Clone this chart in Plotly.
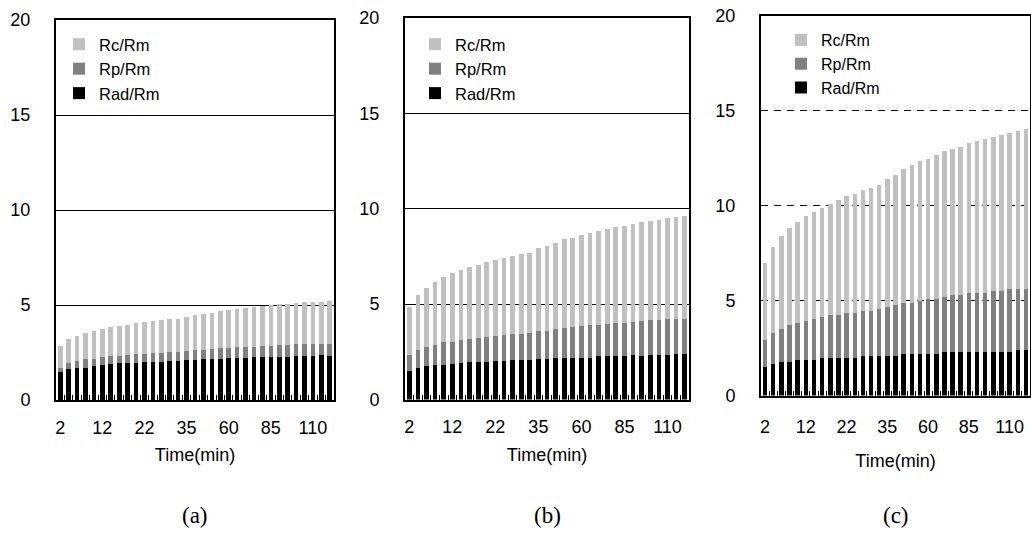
import plotly.graph_objects as go

# Sampling times (min) shared by the three runs
times = [2, 4, 6, 8, 10, 12, 14, 16, 18, 20, 22, 24, 26, 28, 30, 35, 40, 45, 50,
         55, 60, 65, 70, 75, 80, 85, 90, 95, 100, 105, 110, 115, 120]
label_every = 5

# Run (a): stacked components
rad_a = [1.45, 1.61, 1.71, 1.71, 1.77, 1.82, 1.87, 1.93, 1.93, 1.93, 1.98, 1.98, 1.98,
         2.03, 2.03, 2.08, 2.08, 2.14, 2.14, 2.14, 2.19, 2.19, 2.19, 2.24, 2.24, 2.24,
         2.24, 2.24, 2.30, 2.30, 2.30, 2.35, 2.30]
rp_a = [0.26, 0.32, 0.32, 0.43, 0.37, 0.42, 0.43, 0.37, 0.42, 0.47, 0.42, 0.48, 0.48,
        0.48, 0.48, 0.48, 0.53, 0.47, 0.53, 0.58, 0.53, 0.58, 0.58, 0.53, 0.59, 0.59,
        0.64, 0.64, 0.63, 0.63, 0.63, 0.58, 0.63]
rc_a = [1.12, 1.27, 1.33, 1.38, 1.48, 1.49, 1.53, 1.59, 1.59, 1.65, 1.70, 1.69, 1.74,
        1.75, 1.75, 1.80, 1.86, 1.91, 1.91, 1.96, 2.01, 2.02, 2.07, 2.12, 2.12, 2.17,
        2.17, 2.17, 2.18, 2.23, 2.23, 2.23, 2.28]

# Run (b)
rad_b = [1.48, 1.63, 1.74, 1.79, 1.79, 1.84, 1.89, 1.94, 1.94, 1.94, 2.00, 2.00, 2.05,
         2.05, 2.05, 2.10, 2.10, 2.15, 2.15, 2.15, 2.20, 2.20, 2.26, 2.26, 2.26, 2.26,
         2.31, 2.26, 2.31, 2.31, 2.31, 2.36, 2.36]
rp_b = [0.83, 0.94, 0.99, 1.09, 1.20, 1.20, 1.25, 1.25, 1.31, 1.36, 1.35, 1.40, 1.40,
        1.40, 1.42, 1.48, 1.51, 1.57, 1.62, 1.67, 1.67, 1.72, 1.66, 1.72, 1.77, 1.77,
        1.77, 1.87, 1.87, 1.87, 1.93, 1.88, 1.88]
rc_b = [2.55, 2.92, 3.12, 3.28, 3.44, 3.58, 3.64, 3.74, 3.79, 3.90, 3.95, 4.00, 4.06,
        4.16, 4.20, 4.34, 4.46, 4.51, 4.62, 4.67, 4.78, 4.83, 4.93, 4.98, 5.03, 5.08,
        5.14, 5.19, 5.20, 5.25, 5.29, 5.34, 5.39]

# Run (c)
rad_c = [1.48, 1.67, 1.78, 1.78, 1.89, 1.89, 1.89, 1.99, 1.99, 1.99, 1.99, 1.99, 2.10,
         2.10, 2.10, 2.10, 2.10, 2.21, 2.21, 2.21, 2.21, 2.21, 2.31, 2.31, 2.31, 2.31,
         2.31, 2.31, 2.31, 2.31, 2.31, 2.42, 2.42]
rp_c = [1.47, 1.60, 1.71, 1.92, 1.92, 2.02, 2.13, 2.14, 2.24, 2.24, 2.35, 2.35, 2.35,
        2.35, 2.46, 2.56, 2.67, 2.67, 2.67, 2.77, 2.88, 2.88, 2.89, 2.99, 2.99, 3.10,
        3.10, 3.10, 3.21, 3.21, 3.31, 3.20, 3.20]
rc_c = [4.02, 4.53, 4.94, 5.15, 5.35, 5.56, 5.66, 5.76, 5.88, 6.09, 6.19, 6.30, 6.40,
        6.51, 6.51, 6.73, 6.83, 7.04, 7.26, 7.37, 7.37, 7.58, 7.68, 7.69, 7.80, 7.90,
        8.01, 8.11, 8.11, 8.22, 8.22, 8.33, 8.44]

series_names = ["Rad/Rm", "Rp/Rm", "Rc/Rm"]
series_colors = ["#000000", "#808080", "#C0C0C0"]
panel_captions = ["(a)", "(b)", "(c)"]

W, H = 1031, 554
SANS = "Liberation Sans, Arial, sans-serif"
SERIF = "Liberation Serif, Times New Roman, serif"

# Pixel frame of each panel: left, right, y of 0, y of 20
frames = [(56, 334, 400, 20), (405, 689, 399.5, 18), (761, 1030, 395.5, 16)]
grid_dash = ["solid", "solid", "7px,6px"]
legend_ids = ["legend", "legend2", "legend3"]
legend_pos = [(59, 27), (415, 27), (781, 23)]
legend_font = [16.5, 16.5, 16]
xlabel_standoff = [10, 10, 14]
xtitle_standoff = [12, 12, 18]

runs = [(rad_a, rp_a, rc_a), (rad_b, rp_b, rc_b), (rad_c, rp_c, rc_c)]
cats = [str(t) for t in times]
tick_text = [c if i % label_every == 0 else "" for i, c in enumerate(cats)]

fig = go.Figure()
layout = dict(
    width=W, height=H,
    margin=dict(l=0, r=0, t=0, b=0, autoexpand=False),
    paper_bgcolor="white", plot_bgcolor="white",
    barmode="stack", bargap=0.45,
    font=dict(family=SANS, size=18, color="black"),
    annotations=[],
)

for p, (run, (xl, xr, y0, y20)) in enumerate(zip(runs, frames)):
    sfx = "" if p == 0 else str(p + 1)
    for name, color, vals in zip(series_names, series_colors, run):
        fig.add_trace(go.Bar(
            x=cats, y=vals, name=name,
            marker=dict(color=color, line=dict(width=0)),
            xaxis="x" + sfx, yaxis="y" + sfx,
            legend=legend_ids[p], showlegend=True,
        ))
    layout["xaxis" + sfx] = dict(
        domain=[xl / W, xr / W], anchor="y" + sfx,
        type="category", tickmode="array", tickvals=cats, ticktext=tick_text,
        tickangle=0, automargin=False,
        tickson="boundaries", ticks="inside", ticklen=5, tickwidth=1, tickcolor="black",
        showline=True, linewidth=2, linecolor="black", mirror=True,
        showgrid=False, ticklabelstandoff=xlabel_standoff[p],
        tickfont=dict(size=18),
        title=dict(text="Time(min)", font=dict(size=18), standoff=xtitle_standoff[p]),
    )
    layout["yaxis" + sfx] = dict(
        domain=[1 - y0 / H, 1 - y20 / H], anchor="x" + sfx,
        range=[0, 20], tickmode="linear", tick0=0, dtick=5,
        showline=True, linewidth=2, linecolor="black", mirror=True,
        showgrid=True, gridcolor="black", gridwidth=1.3, griddash=grid_dash[p],
        zeroline=False, ticks="", ticklabelstandoff=20, automargin=False,
        tickfont=dict(size=18),
    )
    lx, ly = legend_pos[p]
    layout[legend_ids[p]] = dict(
        x=lx / W, y=1 - ly / H, xanchor="left", yanchor="top",
        traceorder="reversed", bgcolor="rgba(0,0,0,0)",
        font=dict(size=legend_font[p]), borderwidth=0,
    )
    layout["annotations"].append(dict(
        text=panel_captions[p], xref="paper", yref="paper",
        x=(xl + xr) / 2 / W, y=1 - 515 / H, showarrow=False,
        font=dict(family=SERIF, size=23), xanchor="center", yanchor="middle",
    ))

fig.update_layout(**layout)
fig.write_html("out.html")
